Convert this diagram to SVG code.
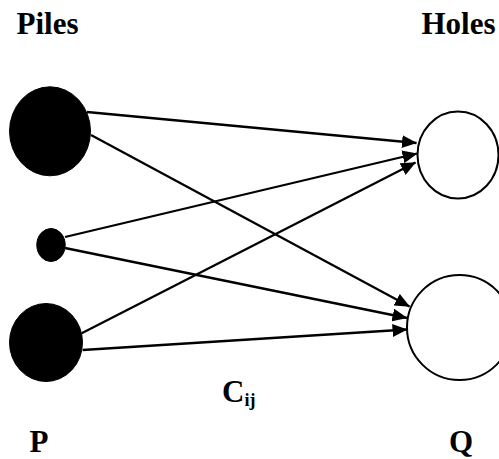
<svg xmlns="http://www.w3.org/2000/svg" width="499" height="459" viewBox="0 0 499 459">
<defs>
<style>
.lbl{font-family:"Liberation Serif","Times New Roman",serif;font-weight:bold;font-size:31px;fill:#000}
.sub{font-family:"Liberation Serif","Times New Roman",serif;font-weight:bold;font-size:18px;fill:#000}
.pile{fill:#000;stroke:#000;stroke-width:1}
.hole{fill:#fff;stroke:#000;stroke-width:2}
.conn line{stroke:#000;stroke-width:2.3;fill:none;marker-end:url(#arr)}
</style>
<marker id="arr" markerUnits="userSpaceOnUse" markerWidth="15" markerHeight="13" refX="14.5" refY="6.5" orient="auto" viewBox="0 0 15 13">
<path d="M0,0 L15,6.5 L0,13 z" fill="#000"/>
</marker>
</defs>
<rect width="499" height="459" fill="#fff"/>
<g class="conn" id="connectors">
<line x1="87" y1="112" x2="416.5" y2="143"/>
<line x1="91" y1="135" x2="409.5" y2="306.5"/>
<line x1="65" y1="237" x2="417" y2="153.5"/>
<line x1="65" y1="248" x2="407" y2="318"/>
<line x1="81.7" y1="333.3" x2="415.5" y2="162.5"/>
<line x1="82.7" y1="350" x2="407" y2="329.5"/>
</g>
<g id="pile1"><ellipse class="pile" cx="50" cy="131.3" rx="40.5" ry="44.5"/></g>
<g id="pile2"><ellipse class="pile" cx="51" cy="245" rx="14.2" ry="16.5"/></g>
<g id="pile3"><ellipse class="pile" cx="46" cy="342.5" rx="36.5" ry="39"/></g>
<g id="hole1"><ellipse class="hole" cx="458" cy="155" rx="40.5" ry="43.5"/></g>
<g id="hole2"><ellipse class="hole" cx="459.5" cy="327.5" rx="52.5" ry="52.5"/></g>
<g id="labels">
<text class="lbl" x="16.5" y="33.5">Piles</text>
<text class="lbl" x="421.5" y="34">Holes</text>
<text class="lbl" x="29.5" y="452.3">P</text>
<text class="lbl" x="449" y="452.3">Q</text>
<text class="lbl" x="222" y="401.5">C<tspan class="sub" dy="4">ij</tspan></text>
</g>
</svg>
